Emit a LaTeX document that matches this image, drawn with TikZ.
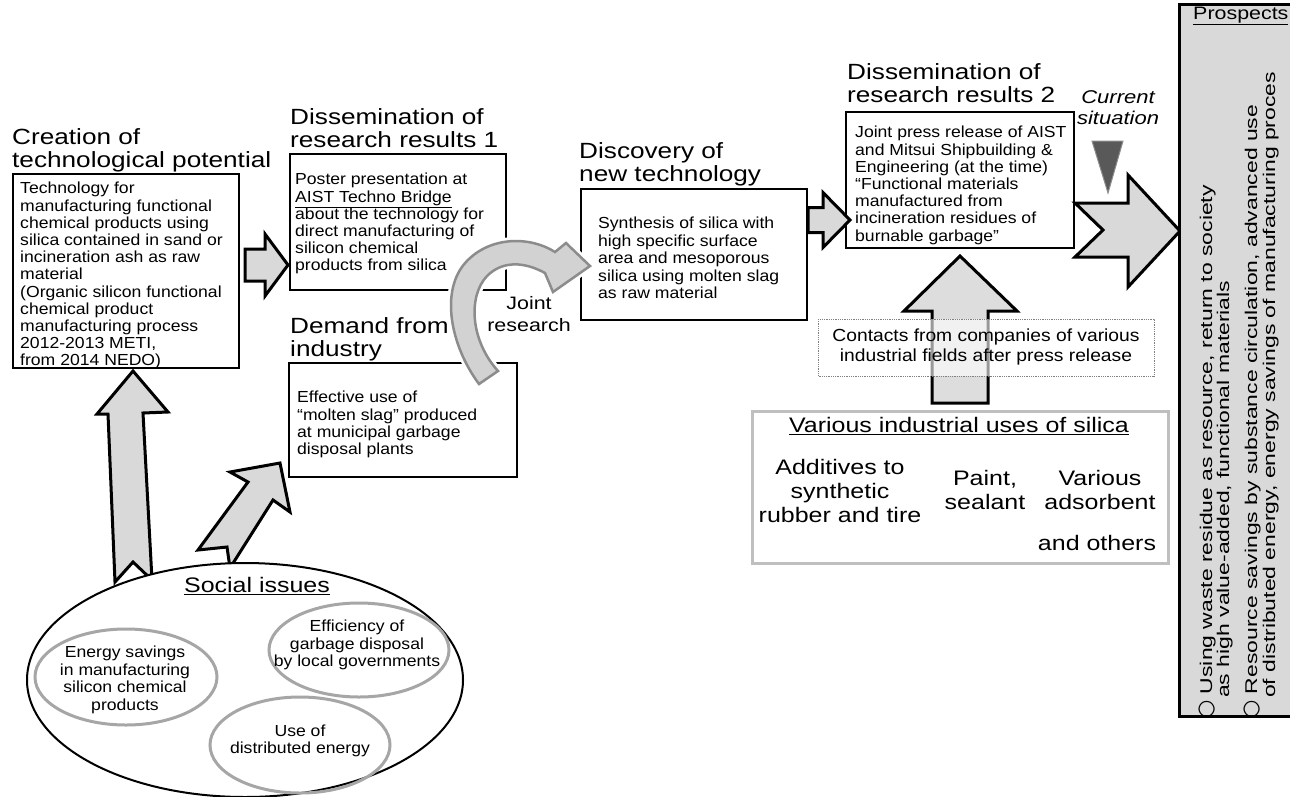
\documentclass[tikz,border=0pt]{standalone}
\usepackage{fontspec}
\setmainfont{Liberation Sans}[FakeStretch=1.1]
\newfontfamily\hdfont{Liberation Sans}[FakeStretch=1.19]
\newfontfamily\prfont{Liberation Sans}[FakeStretch=1.35]
\newfontfamily\symfont{DejaVu Sans}
\newcommand\myfs[2]{\fontsize{#1}{#2}\selectfont}
\definecolor{agray}{RGB}{217,217,217}
\definecolor{cgray}{RGB}{210,210,210}
\definecolor{cline}{RGB}{140,140,140}
\definecolor{egray}{RGB}{166,166,166}
\definecolor{vgray}{RGB}{191,191,191}
\definecolor{dtri}{RGB}{89,89,89}
\begin{document}
\begin{tikzpicture}[x=1pt,y=-1pt,
  box/.style={draw=black, line width=1.5pt, fill=white, inner sep=0pt, anchor=north west},
  blockarrow/.style={draw=black, line width=3pt, fill=agray, line join=miter},
  body/.style={font=\myfs{16}{17.2}, align=left, inner sep=0pt, anchor=north west},
  head/.style={font=\hdfont\myfs{22}{23}, align=left, inner sep=0pt, anchor=north west},
  ell/.style={font=\myfs{16}{17.5}, align=center, inner sep=0pt},
  big/.style={font=\hdfont\myfs{21}{24}, align=center, inner sep=0pt},
  pr/.style={font=\prfont\myfs{17}{18}, rotate=90, anchor=base west, inner sep=0pt}]
\useasboundingbox (0,0) rectangle (1290,796);

% ---- headings
\node[head] (h1) at (12,128) {Creation of\\technological potential};
\node[head] (h2) at (290,108) {Dissemination of\\research results 1};
\node[head] (h3) at (290,317) {Demand from\\industry};
\node[head] (h4) at (579,142) {Discovery of\\new technology};
\node[head] (h5) at (847,63) {Dissemination of\\research results 2};

% ---- boxes
\node[box, minimum width=226pt, minimum height=194pt] (b1) at (12,173) {};
\node[box, minimum width=216pt, minimum height=136pt] (b2) at (289,153) {};
\node[box, minimum width=228pt, minimum height=114pt] (b3) at (288,362) {};
\node[box, minimum width=226pt, minimum height=131pt] (b4) at (580,188) {};
\node[box, minimum width=228pt, minimum height=136pt] (b5) at (845,111) {};

\node[body] (t1) at (20,182) {Technology for\\manufacturing functional\\chemical products using\\silica contained in sand or\\incineration ash as raw\\material\\(Organic silicon functional\\chemical product\\manufacturing process\\2012-2013 METI,\\from 2014 NEDO)};
\node[body] (t2) at (295,173) {Poster presentation at\\\underline{AIST Techno Bridge}\\about the technology for\\direct manufacturing of\\silicon chemical\\products from silica};
\node[body] (t3) at (297,391) {Effective use of\\“molten slag” produced\\at municipal garbage\\disposal plants};
\node[body, font=\myfs{16}{17.5}] (t4) at (598,217) {Synthesis of silica with\\high specific surface\\area and mesoporous\\silica using molten slag\\as raw material};
\node[body] (t5) at (855,126) {Joint press release of AIST\\and Mitsui Shipbuilding \&\\Engineering (at the time)\\“Functional materials\\manufactured from\\incineration residues of\\burnable garbage”};

% ---- straight block arrows
\draw[blockarrow] (245,249) -- (265,249) -- (265,234) -- (288,265) -- (265,296) -- (265,281) -- (245,281) -- cycle;
\draw[blockarrow] (808,207.5) -- (823,207.5) -- (823,192.5) -- (850,220) -- (823,247.5) -- (823,232.5) -- (808,232.5) -- cycle;
\draw[blockarrow] (1075,203) -- (1128,203) -- (1128,175) -- (1180,231) -- (1128,287) -- (1128,257) -- (1075,257) -- (1103,230) -- cycle;

% current situation
\node[font=\hdfont\itshape\myfs{18.5}{21}, align=center, inner sep=0pt] (cur) at (1118,108) {Current\\situation};
\draw[fill=dtri, draw=cline, line width=1pt] (1092,141) -- (1123,141) -- (1108,193) -- cycle;

% ---- prospects
\draw[fill=agray, draw=black, line width=3pt] (1179,4) rectangle (1300,716);
\node[font=\hdfont\myfs{18}{20}, anchor=west, inner sep=0pt] (pt) at (1193,16) {\underline{Prospects}};
\begin{scope}
\clip (1181,33) rectangle (1290,714);
\node[pr] (p1) at (1212,719) {{\symfont\myfs{21}{18}○} Using waste residue as resource, return to society};
\node[pr] (p2) at (1229,698) {as high value-added, functional materials};
\node[pr] (p3) at (1257,719) {{\symfont\myfs{21}{18}○} Resource savings by substance circulation, advanced use};
\node[pr] (p4) at (1275,698) {of distributed energy, energy savings of manufacturing proces};
\end{scope}

% ---- arrows from social issues
\draw[blockarrow] (133,371) -- (168,412) -- (143,413) -- (152,580) -- (133,562) -- (115,582) -- (108,414) -- (97,414) -- cycle;
\draw[blockarrow] (280,463) -- (290,512) -- (273,500) -- (230,568) -- (227,547) -- (198,550) -- (248,482) -- (230,472) -- cycle;

% ---- social issues
\draw[fill=white, draw=black, line width=2pt] (245,680) ellipse [x radius=218, y radius=117];
\node[big] (si) at (257,586) {\underline{Social issues}};
\draw[draw=egray, line width=3pt] (126,677) ellipse [x radius=91, y radius=48];
\draw[draw=egray, line width=3pt] (359,650) ellipse [x radius=90, y radius=47];
\draw[draw=egray, line width=3pt] (300,745) ellipse [x radius=90, y radius=48];
\node[ell] (e1) at (125,680) {Energy savings\\in manufacturing\\silicon chemical\\products};
\node[ell] (e2) at (357,645) {Efficiency of\\garbage disposal\\by local governments};
\node[ell] (e3) at (300,741) {Use of\\distributed energy};

% ---- contacts / industrial uses
\draw[blockarrow, fill=agray!90] (932,403) -- (932,311) -- (904,311) -- (960,256) -- (1017,311) -- (988,311) -- (988,403) -- cycle;
\draw[draw=gray, densely dotted, line width=0.8pt, fill=white, fill opacity=0.6] (818,319) rectangle (1154,376);
\node[font=\myfs{17.5}{20}, align=center, inner sep=0pt] (ct) at (986,347) {Contacts from companies of various\\industrial fields after press release};

\draw[draw=vgray, line width=3pt, fill=white] (752,411) rectangle (1168,563);
\node[big] (vt) at (959,426) {\underline{Various industrial uses of silica}};
\node[big] (v1) at (840,491) {Additives to\\synthetic\\rubber and tire};
\node[big] (v2) at (985,490) {Paint,\\sealant};
\node[big] (v3) at (1100,490) {Various\\adsorbent};
\node[big] (v4) at (1097,543) {and others};

% ---- curved arrow (joint research)
\def\curvedpath{(479,384) .. controls (450,345) and (440,290) .. (466,262)
  .. controls (490,236) and (530,236) .. (555,252) -- (566,243) -- (590,266) -- (553,292) -- (545,273)
  .. controls (525,262) and (503,260) .. (487,276)
  .. controls (468,296) and (470,340) .. (498,371) -- cycle}
\draw[white, line width=8pt, line join=round] \curvedpath;
\draw[fill=cgray, draw=cline, line width=2.5pt, line join=miter] \curvedpath;
\node[font=\hdfont\myfs{18}{22}, align=center, inner sep=0pt] (jr) at (529,314) {Joint\\research};
\end{tikzpicture}
\end{document}
